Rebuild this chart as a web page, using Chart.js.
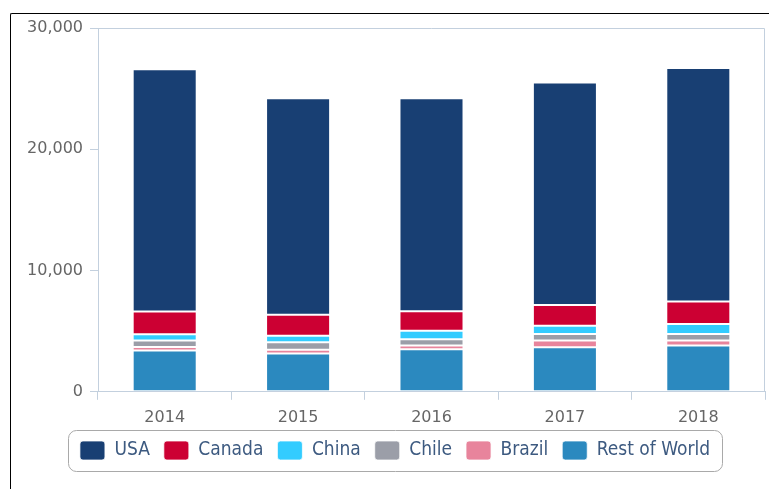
<!DOCTYPE html>
<html>
<head>
<meta charset="utf-8">
<script src="https://cdn.jsdelivr.net/npm/chart.js@4"></script>
<style>
  html, body { margin: 0; padding: 0; background: #fff; overflow: hidden; width: 769px; height: 489px; }
  #frame { position: absolute; left: 10px; top: 13px; width: 800px; height: 520px; border-top: 1px solid #000; border-left: 1px solid #000; border-top-left-radius: 2px; }
  #wrap { position: absolute; left: 0; top: 0; width: 790px; height: 489px; }
</style>
</head>
<body>
<div id="frame"></div>
<div id="wrap"><canvas id="chart"></canvas></div>
<script>
// data (stacked from the bottom up)
const years = ['2014', '2015', '2016', '2017', '2018'];
const restOfWorld = [3400, 3150, 3510, 3680, 3820];
const brazil = [300, 310, 310, 550, 410];
const chile = [530, 630, 520, 530, 530];
const china = [520, 530, 700, 690, 830];
const canada = [1880, 1740, 1600, 1710, 1850];
const usa = [19970, 17840, 17560, 18340, 19260];
const yTicks = [0, 10000, 20000, 30000];

const axisColor = '#c3d0de';

// frame round the plot + rounded box round the legend
const decor = {
  id: 'decor',
  beforeDatasetsDraw(chart) {
    const { ctx, chartArea: a } = chart;
    ctx.save();
    ctx.strokeStyle = axisColor;
    ctx.lineWidth = 1;
    ctx.beginPath();
    ctx.moveTo(a.left, a.top + 0.5); ctx.lineTo(a.right - 0.5, a.top + 0.5); ctx.lineTo(a.right - 0.5, a.bottom);
    ctx.stroke();
    ctx.restore();
  },
  afterDraw(chart) {
    const boxes = chart.legend.legendHitBoxes;
    if (!boxes || !boxes.length) return;
    const l = Math.min(...boxes.map(b => b.left)) - 12;
    const r = Math.max(...boxes.map(b => b.left + b.width)) + 12;
    const cy = boxes[0].top + boxes[0].height / 2;
    const { ctx } = chart;
    ctx.save();
    ctx.strokeStyle = '#a9a9a9';
    ctx.lineWidth = 1;
    ctx.beginPath();
    ctx.roundRect(Math.round(l) + 0.5, Math.round(cy - 20.5) + 0.5, Math.round(r - l), 41, 8);
    ctx.stroke();
    ctx.restore();
  }
};

const seg = (label, data, color) => ({
  label, data, backgroundColor: color,
  borderColor: 'rgba(255,255,255,0.75)', borderWidth: 1, borderSkipped: false,
  categoryPercentage: 1, barPercentage: 0.48
});

new Chart(document.getElementById('chart'), {
  type: 'bar',
  data: {
    labels: years,
    datasets: [
      seg('Rest of World', restOfWorld, '#2b89bf'),
      seg('Brazil', brazil, '#e8849c'),
      seg('Chile', chile, '#9b9ea8'),
      seg('China', china, '#33ccff'),
      seg('Canada', canada, '#cc0033'),
      seg('USA', usa, '#183f73'),
    ]
  },
  options: {
    responsive: true,
    maintainAspectRatio: false,
    animation: false,
    layout: { padding: { left: 25, right: 25, top: 28, bottom: 19 } },
    scales: {
      x: {
        stacked: true,
        afterFit(scale) { scale.height -= 8; },
        border: { color: axisColor },
        grid: { drawOnChartArea: false, offset: true, tickLength: 8, color: axisColor },
        ticks: { color: '#666', font: { family: 'DejaVu Sans', size: 16 }, padding: 8 }
      },
      y: {
        stacked: true,
        min: 0, max: 30000,
        afterBuildTicks(scale) { scale.ticks = yTicks.map(v => ({ value: v })); },
        afterFit(scale) { scale.width = 73; },
        border: { color: axisColor },
        grid: { drawOnChartArea: false, tickLength: 8, color: axisColor },
        ticks: { color: '#666', font: { family: 'DejaVu Sans', size: 16 }, padding: 7,
          callback: v => v.toLocaleString('en-US') }
      }
    },
    plugins: {
      tooltip: { enabled: false },
      legend: {
        position: 'bottom',
        reverse: true,
        labels: {
          boxWidth: 25, boxHeight: 19, padding: 14,
          useBorderRadius: true, borderRadius: 3,
          color: '#3d5a80',
          font: { family: "'DejaVu Sans Condensed', 'DejaVu Sans'", size: 19 }
        }
      }
    }
  },
  plugins: [decor]
});
</script>
</body>
</html>
